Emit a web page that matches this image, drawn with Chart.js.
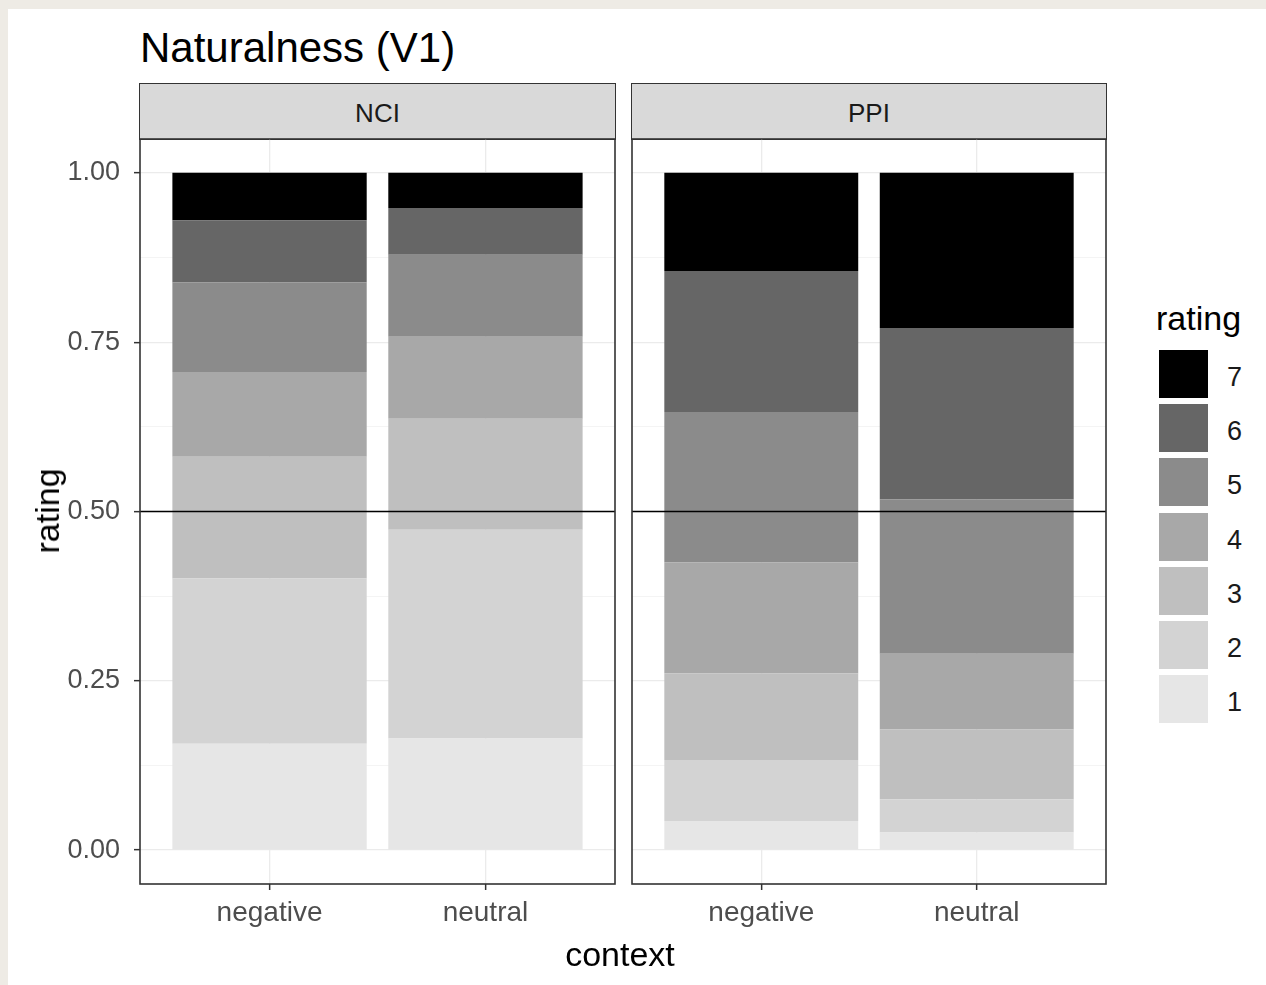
<!DOCTYPE html>
<html>
<head>
<meta charset="utf-8">
<script src="https://cdn.jsdelivr.net/npm/chart.js@4/dist/chart.umd.min.js"></script>
<style>
  html, body { margin: 0; padding: 0; }
  body { width: 1266px; height: 985px; background: #eeebe5; position: relative; overflow: hidden;
         font-family: "Liberation Sans", Arial, sans-serif; }
  #page { position: absolute; left: 8px; top: 9px; right: 0; bottom: 0; background: #fff; }
  .abs { position: absolute; white-space: nowrap; }
  .strip { position: absolute; box-sizing: border-box; background: #d9d9d9; border: 1.6px solid #333;
           display: flex; align-items: center; justify-content: center; font-size: 26px; color: #1a1a1a;
           padding-top: 3px; }
  canvas { position: absolute; }
</style>
</head>
<body>
<div id="page"></div>
<div class="abs" style="left:140px; top:27px; font-size:42px; line-height:42px; color:#000;">Naturalness (V1)</div>
<div id="strips"></div>
<canvas id="c1" width="617" height="845" style="left:0px; top:99px;"></canvas>
<canvas id="c2" width="478" height="845" style="left:630px; top:99px;"></canvas>
<div class="abs" style="left:620px; top:937px; font-size:34px; line-height:34px; color:#000; transform:translateX(-50%);">context</div>
<div class="abs" style="left:47px; top:511px; font-size:34px; line-height:34px; color:#000; transform:translate(-50%,-50%) rotate(-90deg);">rating</div>
<div id="legend"></div>
<script>
// ---- data ----
const facets = ['NCI', 'PPI'];
const contexts = ['negative', 'neutral'];
const ratings = ['1', '2', '3', '4', '5', '6', '7'];
// proportion of each rating (1..7), per facet and context
const nciNegative = [0.157, 0.244, 0.180, 0.125, 0.132, 0.092, 0.070];
const nciNeutral  = [0.165, 0.308, 0.164, 0.121, 0.121, 0.069, 0.052];
const ppiNegative = [0.043, 0.090, 0.128, 0.164, 0.222, 0.208, 0.145];
const ppiNeutral  = [0.026, 0.049, 0.103, 0.112, 0.228, 0.253, 0.229];
const yTicks = [0, 0.25, 0.5, 0.75, 1];
const yTickLabels = ['0.00', '0.25', '0.50', '0.75', '1.00'];
const refLine = 0.5;
const legendTitle = 'rating';

// ---- styles ----
const ratingColors = ['#e6e6e6', '#d3d3d3', '#bfbfbf', '#a8a8a8', '#8b8b8b', '#666666', '#000000'];
const FONT = '"Liberation Sans", Arial, sans-serif';
Chart.defaults.font.family = FONT;

const minorTicks = yTicks.slice(1).map((t, i) => (t + yTicks[i]) / 2);
const allYTicks = yTicks.concat(minorTicks).sort((a, b) => a - b);
const isMajor = v => yTicks.some(t => Math.abs(t - v) < 1e-9);

const panelPlugin = {
  id: 'panelDeco',
  afterDatasetsDraw(chart) {
    const { ctx, chartArea: a, scales: { y } } = chart;
    ctx.save();
    const py = y.getPixelForValue(refLine);
    ctx.strokeStyle = '#000';
    ctx.lineWidth = 1.5;
    ctx.beginPath(); ctx.moveTo(a.left, py); ctx.lineTo(a.right, py); ctx.stroke();
    ctx.strokeStyle = '#333';
    ctx.lineWidth = 1.6;
    ctx.strokeRect(a.left, a.top, a.right - a.left, a.bottom - a.top);
    ctx.restore();
  }
};

function makeDatasets(negVals, neuVals) {
  return ratings.map((r, i) => ({
    label: r,
    data: [{ x: 1, y: negVals[i] }, { x: 2, y: neuVals[i] }],
    backgroundColor: ratingColors[i],
    borderWidth: 0,
    grouped: false,
    barPercentage: 0.9,
    categoryPercentage: 1.0
  }));
}

function makeOptions(showY) {
  return {
    responsive: false,
    animation: false,
    layout: { padding: { top: 40, bottom: 0, left: showY ? 0 : 2, right: 2 } },
    plugins: { legend: { display: false }, tooltip: { enabled: false } },
    scales: {
      x: {
        type: 'linear', min: 0.4, max: 2.6, offset: false,
        afterBuildTicks: s => { s.ticks = contexts.map((c, i) => ({ value: i + 1 })); },
        afterFit: s => { s.height = 60; },
        ticks: {
          autoSkip: false, maxRotation: 0, minRotation: 0, padding: 6,
          color: '#4d4d4d', font: { size: 28 },
          callback: v => contexts[Math.round(v) - 1] || ''
        },
        grid: { offset: false, color: '#ebebeb', lineWidth: 1.3, drawTicks: true, tickLength: 6, tickColor: '#333', tickWidth: 1.5 },
        border: { display: false }
      },
      y: {
        type: 'linear', min: -0.05, max: 1.05, stacked: true,
        afterBuildTicks: s => { s.ticks = allYTicks.map(v => ({ value: v })); },
        afterFit: s => { s.width = showY ? 140 : 0; },
        ticks: {
          display: showY, autoSkip: false, padding: 14,
          color: '#4d4d4d', font: { size: 27 },
          callback: v => { const k = yTicks.findIndex(t => Math.abs(t - v) < 1e-9); return k >= 0 ? yTickLabels[k] : ''; }
        },
        grid: {
          color: c => (c.tick && isMajor(c.tick.value)) ? '#ebebeb' : '#f3f3f3',
          lineWidth: c => (c.tick && isMajor(c.tick.value)) ? 1.3 : 0.9,
          drawTicks: showY, tickLength: 6, tickWidth: 1.5,
          tickColor: c => (c.tick && isMajor(c.tick.value)) ? '#333' : 'rgba(0,0,0,0)'
        },
        border: { display: false }
      }
    }
  };
}

new Chart(document.getElementById('c1'), {
  type: 'bar',
  data: { datasets: makeDatasets(nciNegative, nciNeutral) },
  options: makeOptions(true),
  plugins: [panelPlugin]
});
new Chart(document.getElementById('c2'), {
  type: 'bar',
  data: { datasets: makeDatasets(ppiNegative, ppiNeutral) },
  options: makeOptions(false),
  plugins: [panelPlugin]
});

// strips
const stripBoxes = [{ left: 139, width: 477 }, { left: 631, width: 476 }];
const stripsEl = document.getElementById('strips');
facets.forEach((f, i) => {
  const d = document.createElement('div');
  d.className = 'strip';
  d.style.left = stripBoxes[i].left + 'px';
  d.style.top = '83px';
  d.style.width = stripBoxes[i].width + 'px';
  d.style.height = '57px';
  d.textContent = f;
  stripsEl.appendChild(d);
});

// legend
const legendEl = document.getElementById('legend');
const lt = document.createElement('div');
lt.className = 'abs';
lt.style.cssText = 'left:1156px; top:301px; font-size:34px; line-height:34px; color:#000;';
lt.textContent = legendTitle;
legendEl.appendChild(lt);
ratings.slice().reverse().forEach((r, j) => {
  const i = ratings.length - 1 - j;
  const top = 350 + j * 54.2;
  const key = document.createElement('div');
  key.className = 'abs';
  key.style.cssText = `left:1159px; top:${top}px; width:49px; height:48px; background:${ratingColors[i]};`;
  legendEl.appendChild(key);
  const lab = document.createElement('div');
  lab.className = 'abs';
  lab.style.cssText = `left:1227px; top:${top + 3}px; height:48px; line-height:48px; font-size:27px; color:#1a1a1a;`;
  lab.textContent = r;
  legendEl.appendChild(lab);
});
</script>
</body>
</html>
